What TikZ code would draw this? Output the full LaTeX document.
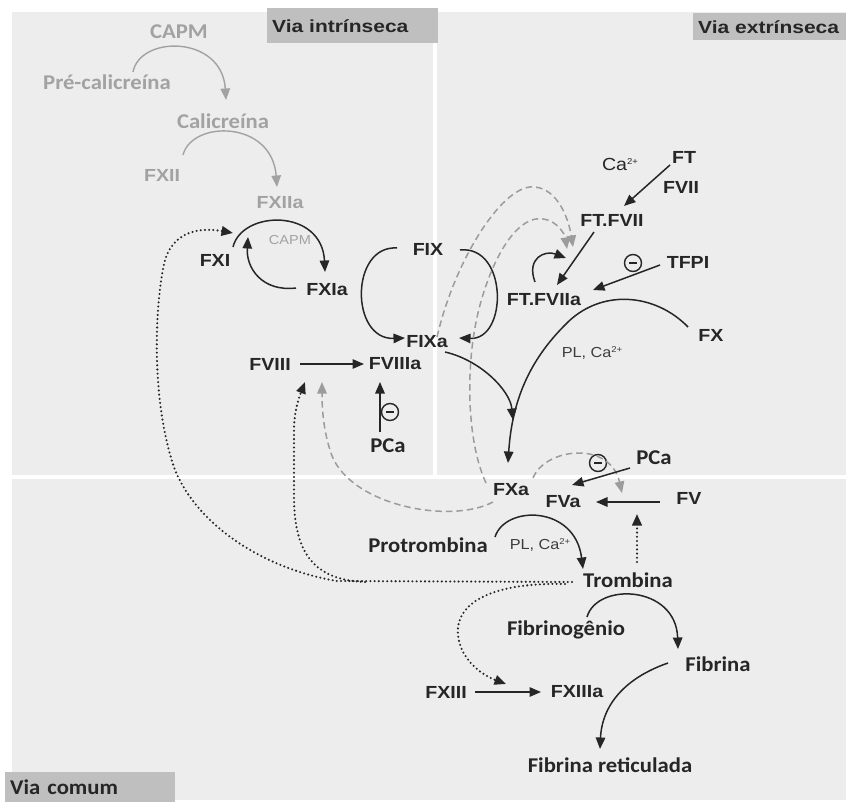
\documentclass[tikz,border=0pt]{standalone}
\usepackage{fontspec}
\usetikzlibrary{arrows.meta}
\newfontfamily\arialF[FakeStretch=1.12]{Liberation Sans}
\newfontfamily\hdrF[FakeStretch=1.2]{Liberation Sans}
\newfontfamily\carF[FakeStretch=1.08]{Carlito}
\newcommand{\supca}{\raisebox{0.55ex}{\fontsize{8.5}{9}\selectfont 2+}}
\definecolor{panel}{HTML}{EDEDED}
\definecolor{hdrc}{HTML}{BFBFBF}
\definecolor{txt}{HTML}{262626}
\definecolor{txtb}{HTML}{3C3C3C}
\definecolor{gtxt}{HTML}{A2A2A2}
\definecolor{dashcol}{HTML}{9C9C9C}
\tikzset{
  tip/.style={-{Triangle[length=11.5pt,width=9.5pt]}},
  fl/.style={font=\arialF\bfseries\fontsize{17.5}{20}\selectfont, text=txt, inner sep=0pt},
  pw/.style={font=\carF\bfseries\fontsize{21}{24}\selectfont, text=txt, inner sep=0pt},
  gl/.style={text=gtxt},
  smalltxt/.style={font=\arialF\fontsize{14.5}{17}\selectfont, text=txtb, inner sep=0pt},
  capmsmall/.style={font=\arialF\fontsize{13}{15}\selectfont, text=gtxt, inner sep=0pt},
  catxt/.style={font=\arialF\fontsize{17.5}{20}\selectfont, text=txt, inner sep=0pt},
  hdr/.style={fill=hdrc, font=\hdrF\bfseries\fontsize{17.5}{20}\selectfont, text=txt,
    anchor=north west, inner ysep=0pt, inner xsep=5pt, align=left},
  hdrcomum/.style={fill=hdrc, font=\carF\bfseries\fontsize{21}{24}\selectfont, text=txt,
    anchor=north west, inner ysep=0pt, inner xsep=5pt, align=left},
  conn/.style={line width=1.5pt, draw=txt, tip},
  gconn/.style={line width=1.4pt, draw=gtxt, tip},
  dashc/.style={line width=1.5pt, draw=dashcol, dash pattern=on 6.5pt off 4pt, tip},
  dotc/.style={line width=2.3pt, draw=txt, dash pattern=on 0pt off 4.2pt, line cap=round, tip},
  minus/.style={circle, draw=txt, line width=1.4pt, minimum size=17pt, inner sep=0pt,
    path picture={\draw[line width=2pt, txt]
      ([xshift=-3.8pt]path picture bounding box.center) --
      ([xshift=3.8pt]path picture bounding box.center);}},
}
\begin{document}
\begin{tikzpicture}[x=1pt,y=-1pt]
\useasboundingbox (0,0) rectangle (846,802);
% panels
\fill[panel] (12,12) rectangle (846,800);
\fill[white] (432.5,12) rectangle (437,474.5);
\fill[white] (12,474.5) rectangle (846,479);
% headers
\node[hdr, minimum width=171pt, minimum height=35pt, text width=161pt] (hint) at (267,8) {Via intrínseca};
\node[hdr, minimum width=153pt, minimum height=27pt, text width=143pt] (hext) at (693,13) {Via extrínseca};
\node[hdrcomum, minimum width=170pt, minimum height=30pt, text width=160pt] (hcom) at (5,772) {Via comum};

% ---- nodes ----
\node[pw,gl] (capm1) at (179,32) {CAPM};
\node[pw,gl] (prek) at (107,82) {Pré-calicreína};
\node[pw,gl] (calic) at (223,121) {Calicreína};
\node[fl,gl] (fxii) at (162,175) {FXII};
\node[fl,gl] (fxiia) at (280,203) {FXIIa};
\node[capmsmall] (capm2) at (290,240) {CAPM};
\node[fl] (fxi) at (215,260) {FXI};
\node[fl] (fxia) at (327,290) {FXIa};
\node[fl] (fix) at (428,249) {FIX};
\node[fl] (fixa) at (427,342) {FIXa};
\node[fl] (fviii) at (270,364) {FVIII};
\node[fl] (fviiia) at (395,364) {FVIIIa};
\node[pw] (pca1) at (388,446) {PCa};
\node[minus] (m1) at (390,412) {};
\node[catxt] (ca) at (620,164) {Ca\supca};
\node[fl] (ft) at (684,157) {FT};
\node[fl] (fvii) at (681,187) {FVII};
\node[fl] (ftfvii) at (612,220) {FT.FVII};
\node[fl] (ftfviia) at (544,300) {FT.FVIIa};
\node[fl] (tfpi) at (688,262) {TFPI};
\node[minus] (m2) at (633,263) {};
\node[fl] (fx) at (711,335) {FX};
\node[smalltxt] (pl1) at (592,353) {PL, Ca\supca};
\node[fl] (fxa) at (511,490) {FXa};
\node[fl] (fva) at (563,502) {FVa};
\node[fl] (fv) at (689,498) {FV};
\node[pw] (pca2) at (654,458) {PCa};
\node[minus] (m3) at (598,463) {};
\node[pw] (protr) at (428,545) {Protrombina};
\node[smalltxt] (pl2) at (540,545) {PL, Ca\supca};
\node[pw] (tromb) at (628,580) {Trombina};
\node[pw] (fibgen) at (566,630) {Fibrinogênio};
\node[pw] (fibrina) at (718,664) {Fibrina};
\node[fl] (fxiii) at (446,692) {FXIII};
\node[fl] (fxiiia) at (577,692) {FXIIIa};
\node[pw] (fibret) at (610,765) {Fibrina reticulada};

% ---- connector end points ----
\coordinate (a1s) at (133,72);   \coordinate (a1e) at (226,100);
\coordinate (a2s) at (183,155);  \coordinate (a2e) at (277,187);
\coordinate (a3s) at (233,247);  \coordinate (a3e) at (325,272);
\coordinate (a4s) at (296,288);  \coordinate (a4e) at (248,237);
\coordinate (a5s) at (397,248);  \coordinate (a5e) at (405,338);
\coordinate (a6s) at (460,250);  \coordinate (a6e) at (459,338);
\coordinate (a7s) at (300,364);  \coordinate (a7e) at (364,364);
\coordinate (a8s) at (380,432);  \coordinate (a8e) at (380,382);
\coordinate (a9s) at (445,352);  \coordinate (a9e) at (513,420);
\coordinate (b1s) at (688,327);  \coordinate (b1m) at (565,325); \coordinate (b1e) at (508,463);
\coordinate (b2s) at (670,165);  \coordinate (b2e) at (624,206);
\coordinate (b3s) at (594,232);  \coordinate (b3e) at (557,285);
\coordinate (b4s) at (535,282);  \coordinate (b4e) at (566,258);
\coordinate (b5s) at (660,265);  \coordinate (b5e) at (593,290);
\coordinate (d1s) at (437,337);  \coordinate (d1m) at (530,187); \coordinate (d1e) at (573,247);
\coordinate (d2s) at (486,483);  \coordinate (d2m) at (480,305); \coordinate (d2n) at (543,219); \coordinate (d2e) at (567,249);
\coordinate (d3s) at (493,502);  \coordinate (d3m) at (330,450); \coordinate (d3e) at (322,382);
\coordinate (d4s) at (533,478);  \coordinate (d4e) at (622,493);
\coordinate (trw) at (572,582);  \coordinate (h1) at (337,581);
\coordinate (o1) at (175,470);   \coordinate (o2) at (165,260); \coordinate (o3) at (233,233);
\coordinate (i0) at (365,582);   \coordinate (i1) at (294,500); \coordinate (i2) at (294,430); \coordinate (i3) at (305,382);
\coordinate (x1) at (565,584);   \coordinate (x2) at (462,650); \coordinate (x3) at (506,684);
\coordinate (c1s) at (630,468);  \coordinate (c1e) at (572,485);
\coordinate (c2s) at (660,502);  \coordinate (c2e) at (596,502);
\coordinate (c3s) at (637,562);  \coordinate (c3e) at (637,514);
\coordinate (c4s) at (495,537);  \coordinate (c4e) at (583,569);
\coordinate (c5s) at (587,617);  \coordinate (c5e) at (678,649);
\coordinate (c6s) at (668,663);  \coordinate (c6e) at (600,749);
\coordinate (c7s) at (475,692);  \coordinate (c7e) at (541,692);

% ---- gray intrinsic start ----
\draw[gconn] (a1s) .. controls (140,35) and (222,35) .. (a1e);
\draw[gconn] (a2s) .. controls (192,120) and (272,120) .. (a2e);

% ---- intrinsic ----
\draw[conn] (a3s) .. controls (242,210) and (322,208) .. (a3e);
\draw[conn] (a4s) .. controls (262,292) and (246,268) .. (a4e);
\draw[conn] (a5s) .. controls (350,245) and (350,340) .. (a5e);
\draw[conn] (a6s) .. controls (508,245) and (508,340) .. (a6e);
\draw[conn] (a7s) -- (a7e);
\draw[conn] (a8s) -- (a8e);
\draw[conn] (a9s) .. controls (480,360) and (510,390) .. (a9e);

% ---- extrinsic ----
\draw[conn] (b1s) .. controls (655,293) and (600,288) .. (b1m) .. controls (530,360) and (512,400) .. (b1e);
\draw[conn] (b2s) -- (b2e);
\draw[conn] (b3s) -- (b3e);
\draw[conn] (b4s) .. controls (526,258) and (545,250) .. (b4e);
\draw[conn] (b5s) -- (b5e);

% ---- dashed feedback ----
\draw[dashc] (d1s) .. controls (455,260) and (500,190) .. (d1m) .. controls (555,185) and (568,215) .. (d1e);
\draw[dashc] (d2s) .. controls (466,440) and (465,360) .. (d2m) .. controls (495,250) and (520,215) .. (d2n) .. controls (558,221) and (565,235) .. (d2e);
\draw[dashc] (d3s) .. controls (450,525) and (345,505) .. (d3m) .. controls (322,425) and (322,400) .. (d3e);
\draw[dashc] (d4s) .. controls (545,448) and (610,440) .. (d4e);

% ---- dotted thrombin feedback ----
\draw[dotc] (trw) -- (h1) .. controls (270,570) and (200,530) .. (o1) .. controls (150,400) and (155,300) .. (o2) .. controls (175,228) and (205,228) .. (o3);
\draw[dotc] (i0) .. controls (320,580) and (295,560) .. (i1) -- (i2) .. controls (294,410) and (300,395) .. (i3);
\draw[dotc] (x1) .. controls (480,582) and (445,610) .. (x2) .. controls (472,670) and (490,678) .. (x3);
\draw[dotc] (c3s) -- (c3e);

% ---- common pathway ----
\draw[conn] (c1s) -- (c1e);
\draw[conn] (c2s) -- (c2e);
\draw[conn] (c4s) .. controls (505,505) and (575,505) .. (c4e);
\draw[conn] (c5s) .. controls (597,582) and (676,585) .. (c5e);
\draw[conn] (c6s) .. controls (625,678) and (602,705) .. (c6e);
\draw[conn] (c7s) -- (c7e);
\end{tikzpicture}
\end{document}
